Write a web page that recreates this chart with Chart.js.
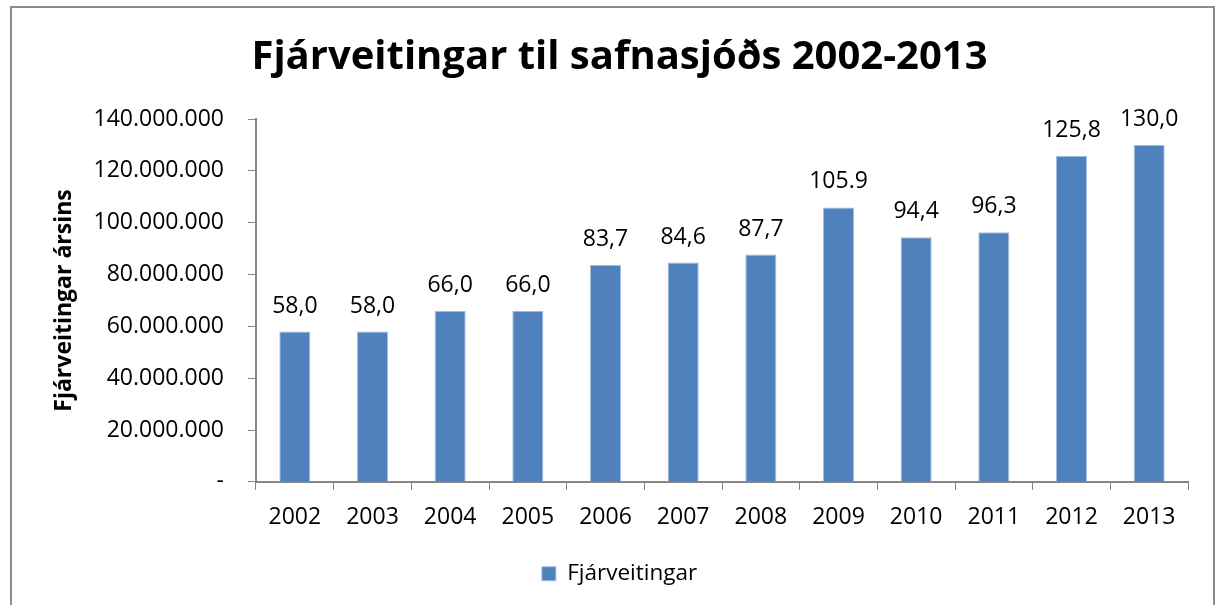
<!DOCTYPE html>
<html>
<head>
<meta charset="utf-8">
<script src="https://cdn.jsdelivr.net/npm/chart.js@4.4.1/dist/chart.umd.min.js"></script>
<style>
  html, body { margin: 0; padding: 0; background: #fff; }
  #wrap { position: relative; width: 1219px; height: 605px; overflow: hidden; }
  #frame { position: absolute; left: 10px; top: 6px; width: 1205px; height: 640px; border: 2px solid #8c8c8c; box-sizing: border-box; }
  canvas { position: absolute; left: 0; top: 0; }
</style>
</head>
<body>
<div id="wrap">
  <div id="frame"></div>
  <canvas id="chart" width="1219" height="605"></canvas>
</div>
<script>
// values
const years = ['2002', '2003', '2004', '2005', '2006', '2007', '2008', '2009', '2010', '2011', '2012', '2013']
const amounts = [58000000, 58000000, 66000000, 66000000, 83700000, 84600000, 87700000, 105900000, 94400000, 96300000, 125800000, 130000000]
const barLabels = ['58,0', '58,0', '66,0', '66,0', '83,7', '84,6', '87,7', '105.9', '94,4', '96,3', '125,8', '130,0']
const yTicks = [0, 20000000, 40000000, 60000000, 80000000, 100000000, 120000000, 140000000]

const FONT = "'Open Sans', 'Noto Sans', sans-serif"

// draw the number above each bar
const barLabelPlugin = {
  id: 'barLabels',
  afterDatasetsDraw(chart) {
    const ctx = chart.ctx
    const meta = chart.getDatasetMeta(0)
    ctx.save()
    ctx.font = '23px ' + FONT
    ctx.fillStyle = '#000'
    ctx.textAlign = 'center'
    ctx.textBaseline = 'alphabetic'
    meta.data.forEach((bar, i) => {
      ctx.fillText(barLabels[i], bar.x, bar.y - 19)
    })
    ctx.restore()
  }
}

const fmt = v => v === 0 ? '-' : v.toString().replace(/\B(?=(\d{3})+(?!\d))/g, '.')

new Chart(document.getElementById('chart'), {
  type: 'bar',
  data: {
    labels: years,
    datasets: [{
      label: 'Fjárveitingar',
      data: amounts,
      backgroundColor: '#4f81bd',
      borderColor: '#a3bfe0',
      borderWidth: 1,
      barPercentage: 0.4,
      categoryPercentage: 1.0
    }]
  },
  plugins: [barLabelPlugin],
  options: {
    responsive: false,
    animation: false,
    layout: { padding: { left: 51, right: 31, top: 20, bottom: 10 } },
    plugins: {
      title: {
        display: true,
        text: 'Fjárveitingar til safnasjóðs 2002-2013',
        color: '#000',
        font: { family: FONT, size: 40, weight: 'bold' },
        padding: { top: 14, bottom: 37 }
      },
      legend: {
        position: 'bottom',
        labels: {
          color: '#000',
          font: { family: FONT, size: 22.5 },
          boxWidth: 14,
          boxHeight: 14,
          padding: 18
        }
      },
      tooltip: { enabled: false }
    },
    scales: {
      x: {
        offset: true,
        afterFit(axis) { axis.height -= 1 },
        grid: { offset: true, drawOnChartArea: false, drawTicks: true, tickLength: 8, color: '#868686' },
        border: { color: '#868686', width: 2 },
        ticks: { color: '#000', font: { family: FONT, size: 23 }, padding: 14, maxRotation: 0 }
      },
      y: {
        min: 0,
        max: 140000000,
        afterBuildTicks(axis) { axis.ticks = yTicks.map(v => ({ value: v })) },
        afterFit(axis) { axis.width = 205 },
        grid: { drawOnChartArea: false, drawTicks: true, tickLength: 8, color: '#868686' },
        border: { color: '#868686', width: 2 },
        title: {
          display: true,
          text: 'Fjárveitingar ársins',
          color: '#000',
          font: { family: FONT, size: 23, weight: 'bold' },
          padding: 0
        },
        ticks: {
          color: '#000',
          font: { family: FONT, size: 23 },
          padding: 24,
          callback: v => fmt(v)
        }
      }
    }
  }
})
</script>
</body>
</html>
